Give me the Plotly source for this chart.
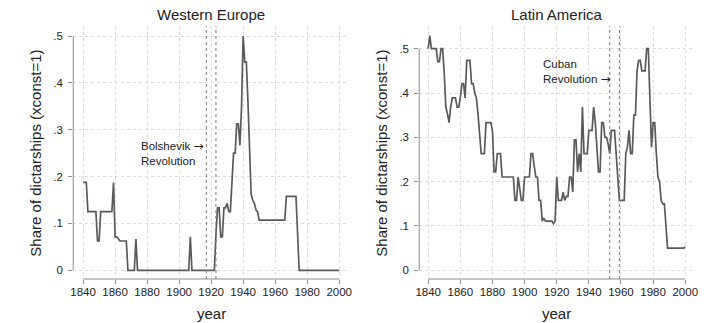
import plotly.graph_objects as go

# ---- data -------------------------------------------------------------
years = list(range(1840, 2001))

western_europe = (
    [0.1875, 0.1875, 0.1875, 0.125, 0.125, 0.125, 0.125, 0.125, 0.125, 0.0625,   # 1840-1849
     0.0625, 0.125, 0.125, 0.125, 0.125, 0.125, 0.125, 0.125, 0.125, 0.1875,     # 1850-1859
     0.0714, 0.0714, 0.0667, 0.0625, 0.0625, 0.0625, 0.0625, 0.0625, 0.0, 0.0,   # 1860-1869
     0.0, 0.0, 0.0, 0.0667, 0.0, 0.0, 0.0, 0.0, 0.0, 0.0]                        # 1870-1879
    + [0.0] * 27                                                                 # 1880-1906
    + [0.0714, 0.0, 0.0,                                                         # 1907-1909
       0.0, 0.0, 0.0, 0.0, 0.0, 0.0, 0.0, 0.0, 0.0, 0.0,                         # 1910-1919
       0.0, 0.0, 0.0, 0.0769, 0.1333, 0.1333, 0.0714, 0.0714, 0.1333, 0.1333,    # 1920-1929
       0.1429, 0.125, 0.125, 0.1875, 0.25, 0.25, 0.3125, 0.3125, 0.2667, 0.35,   # 1930-1939
       0.5, 0.4444, 0.4444, 0.36, 0.25, 0.1618, 0.15, 0.1429, 0.129, 0.125,      # 1940-1949
       0.1071, 0.1071, 0.1071, 0.1071, 0.1071, 0.1071, 0.1071, 0.1071, 0.1071, 0.1071,  # 1950-1959
       0.1071, 0.1071, 0.1071, 0.1071, 0.1071, 0.1071, 0.1071, 0.1579, 0.1579, 0.1579,  # 1960-1969
       0.1579, 0.1579, 0.1579, 0.1579, 0.0789, 0.0, 0.0, 0.0, 0.0, 0.0]          # 1970-1979
    + [0.0] * 21                                                                 # 1980-2000
)

latin_america = [
    0.5, 0.5294, 0.5, 0.5, 0.5, 0.5, 0.4706, 0.4706, 0.5, 0.5,                   # 1840-1849
    0.4444, 0.3684, 0.3529, 0.3333, 0.3684, 0.3889, 0.3889, 0.3889, 0.3684, 0.3684,  # 1850-1859
    0.3889, 0.4211, 0.4211, 0.3889, 0.4737, 0.4737, 0.4737, 0.4211, 0.4211, 0.4,     # 1860-1869
    0.3889, 0.3529, 0.3, 0.2632, 0.2632, 0.2632, 0.3333, 0.3333, 0.3333, 0.3333,     # 1870-1879
    0.3158, 0.2222, 0.2222, 0.2632, 0.2632, 0.2632, 0.2105, 0.2105, 0.2105, 0.2105,  # 1880-1889
    0.2105, 0.2105, 0.2105, 0.2105, 0.1579, 0.1579, 0.2105, 0.1842, 0.1579, 0.1579,  # 1890-1899
    0.2105, 0.2105, 0.2105, 0.2105, 0.2632, 0.2632, 0.2353, 0.2105, 0.2105, 0.1579,  # 1900-1909
    0.1579, 0.1111, 0.1176, 0.1111, 0.1111, 0.1111, 0.1111, 0.1111, 0.1053, 0.1111,  # 1910-1919
    0.2105, 0.1579, 0.1579, 0.1579, 0.1765, 0.1579, 0.1667, 0.1667, 0.2105, 0.2105,  # 1920-1929
    0.1765, 0.2941, 0.2941, 0.2222, 0.2632, 0.2222, 0.3684, 0.2632, 0.2632, 0.2632,  # 1930-1939
    0.3158, 0.3158, 0.3158, 0.3684, 0.3333, 0.2778, 0.2222, 0.2222, 0.3333, 0.3333,  # 1940-1949
    0.3, 0.3, 0.2857, 0.2632, 0.3158, 0.3158, 0.3158, 0.2632, 0.2105, 0.1579,        # 1950-1959
    0.1579, 0.1579, 0.1579, 0.2632, 0.2778, 0.3158, 0.2632, 0.2632, 0.35, 0.35,      # 1960-1969
    0.45, 0.4737, 0.4737, 0.45, 0.45, 0.45, 0.5, 0.5, 0.3889, 0.2778,                # 1970-1979
    0.3333, 0.3333, 0.2632, 0.2105, 0.2, 0.1579, 0.15, 0.15, 0.1, 0.05,              # 1980-1989
    0.05, 0.05, 0.05, 0.05, 0.05, 0.05, 0.05, 0.05, 0.05, 0.05,                      # 1990-1999
    0.0526,                                                                          # 2000
]

panel_titles = ["Western Europe", "Latin America"]
revolution_years = [(1917, 1923), (1953, 1959)]
ARROW = "<span style=\"font-family:'DejaVu Sans';font-size:12px\">\u2192</span>"
revolution_labels = ["Bolshevik " + ARROW + "<br>Revolution",
                     "Cuban<br>Revolution " + ARROW]

x_ticks = list(range(1840, 2001, 20))
y_ticks = [0, 0.1, 0.2, 0.3, 0.4, 0.5]
y_tick_text = ["0", ".1", ".2", ".3", ".4", ".5"]

# ---- layout geometry (pixels in a 711 x 323 canvas) -------------------
W, H = 711, 323
FONT = "Liberation Sans, Arial, sans-serif"
LINE = "#5a5a5a"
AXIS = "#8c8c8c"
GRID = "#dcdcdc"


def px(x):
    return x / W


def py(y):
    return 1 - y / H


panels = [
    dict(left=70, right=349, x1840=80, x2000=339, y0=270.3, y5=36.0),
    dict(left=420, right=698, x1840=429, x2000=689, y0=270.3, y5=48.7),
]
plot_top, plot_bottom = 26, 279

fig = go.Figure()
series = [western_europe, latin_america]

for i, (p, vals) in enumerate(zip(panels, series)):
    xa = "x" if i == 0 else "x2"
    ya = "y" if i == 0 else "y2"
    per_year = (p["x2000"] - p["x1840"]) / 160.0
    xr = [1840 - (p["x1840"] - p["left"]) / per_year,
          2000 + (p["right"] - p["x2000"]) / per_year]
    per_unit = (p["y0"] - p["y5"]) / 0.5
    yr = [-(plot_bottom - p["y0"]) / per_unit,
          0.5 + (p["y5"] - plot_top) / per_unit]

    fig.add_trace(go.Scatter(
        x=years, y=vals, mode="lines", xaxis=xa, yaxis=ya,
        line=dict(color=LINE, width=1.7), showlegend=False, hoverinfo="skip",
    ))

    axis_common = dict(
        showline=False, zeroline=False, showgrid=True,
        gridcolor=GRID, griddash="dot", gridwidth=1,
        ticks="outside", ticklen=4, tickcolor=AXIS, tickwidth=1,
        tickfont=dict(family=FONT, size=11.5, color="#222"),
    )
    xkey = "xaxis" if i == 0 else "xaxis2"
    ykey = "yaxis" if i == 0 else "yaxis2"
    fig.update_layout(**{
        xkey: dict(axis_common, domain=[px(p["left"]), px(p["right"])],
                   range=xr, tickvals=x_ticks, anchor=ya,
                   ticklabelstandoff=-2),
        ykey: dict(axis_common, domain=[py(plot_bottom), py(plot_top)],
                   range=yr, tickvals=y_ticks, ticktext=y_tick_text,
                   anchor=xa, ticklabelstandoff=3),
    })

    xref = "x" if i == 0 else "x2"
    yref = "y" if i == 0 else "y2"
    # axis lines spanning only the labelled range
    fig.add_shape(type="line", xref=xref, yref=yref + " domain",
                  x0=1840, x1=2000, y0=0, y1=0,
                  line=dict(color=AXIS, width=1))
    fig.add_shape(type="line", xref=xref + " domain", yref=yref,
                  x0=0, x1=0, y0=0, y1=0.5,
                  line=dict(color=AXIS, width=1))
    # revolution markers
    for yr_mark in revolution_years[i]:
        fig.add_shape(type="line", xref=xref, yref=yref + " domain",
                      x0=yr_mark, x1=yr_mark, y0=0, y1=1,
                      line=dict(color="#7a7a7a", width=1, dash="dot"))

    cx = (p["x1840"] + p["x2000"]) / 2
    fig.add_annotation(text=panel_titles[i], xref="paper", yref="paper",
                       x=px(cx), y=py(15), showarrow=False,
                       xanchor="center", yanchor="middle",
                       font=dict(family=FONT, size=15, color="#222"))
    fig.add_annotation(text="year", xref="paper", yref="paper",
                       x=px(cx), y=py(313), showarrow=False,
                       xanchor="center", yanchor="middle",
                       font=dict(family=FONT, size=15, color="#222"))
    fig.add_annotation(text="Share of dictarships (xconst=1)",
                       xref="paper", yref="paper",
                       x=px(32 if i == 0 else 382), y=py(153),
                       textangle=-90, showarrow=False,
                       xanchor="center", yanchor="middle",
                       font=dict(family=FONT, size=15, color="#222"))

# event labels
fig.add_annotation(text=revolution_labels[0], xref="paper", yref="paper",
                   x=px(137), y=py(152.5), showarrow=False, align="left",
                   xanchor="left", yanchor="middle",
                   font=dict(family=FONT, size=11.5, color="#222"))
fig.add_annotation(text=revolution_labels[1], xref="paper", yref="paper",
                   x=px(543), y=py(72), showarrow=False, align="left",
                   xanchor="left", yanchor="middle",
                   font=dict(family=FONT, size=11.5, color="#222"))

fig.update_layout(
    width=W, height=H, margin=dict(l=0, r=0, t=0, b=0),
    paper_bgcolor="white", plot_bgcolor="white",
)

fig.write_html("out.html")
